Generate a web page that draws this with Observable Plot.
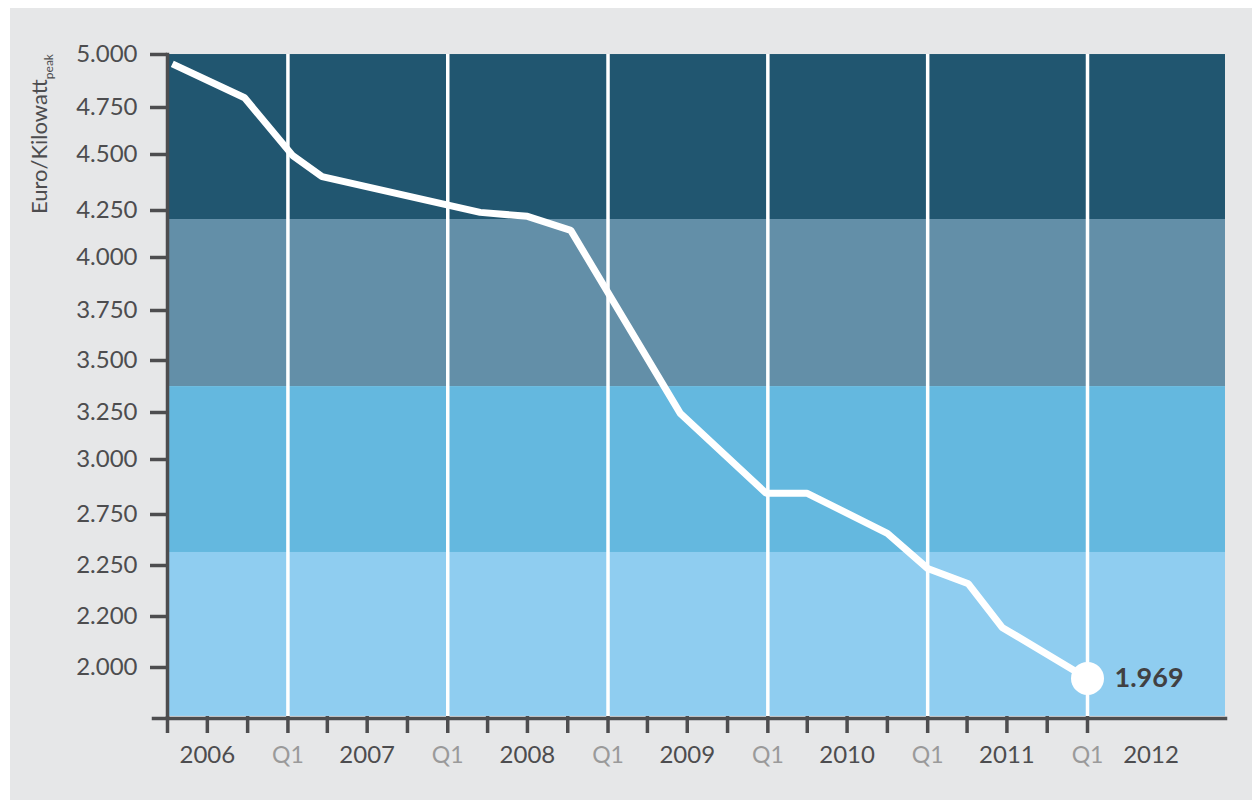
<!DOCTYPE html>
<html>
<head>
<meta charset="utf-8">
<script src="https://cdn.jsdelivr.net/npm/d3@7"></script>
<script src="https://cdn.jsdelivr.net/npm/@observablehq/plot@0.6"></script>
<style>
  html, body { margin: 0; padding: 0; background: #ffffff; }
  #chart { position: absolute; left: 10px; top: 8px; width: 1242px; height: 792px; background: #e6e7e8; }
  #chart svg { display: block; }
</style>
</head>
<body>
<div id="chart"></div>
<script>
// Average system price, Euro per kilowatt-peak
const dates  = ["2006-04-12", "2006-09-24", "2007-01-12", "2007-03-20", "2008-03-15", "2008-07-01",
                "2008-10-08", "2009-06-15", "2009-12-28", "2010-04-01", "2010-10-01", "2011-01-01",
                "2011-04-04", "2011-06-20", "2012-01-01"];
const prices = [4970, 4810, 4510, 4415, 4255, 4235, 4160, 3260, 2860, 2860, 2595, 2250, 2235, 2169, 1969];

// Value axis as labelled
const yTicks = [2000, 2200, 2250, 2750, 3000, 3250, 3500, 3750, 4000, 4250, 4500, 4750, 5000];

// Background bands (upper/lower edges in Euro/kWp) and their colours
const bandTop    = [5014, 4218, 3389, 2407];
const bandBottom = [4218, 3389, 2407, 1820];
const bandColors = ["#215670", "#638fa8", "#64b8df", "#8fcdf0"];

// Time axis labels
const q1Dates     = ["2007-01-01", "2008-01-01", "2009-01-01", "2010-01-01", "2011-01-01", "2012-01-01"];
const q1Labels    = ["Q1", "Q1", "Q1", "Q1", "Q1", "Q1"];
const yearDates   = ["2006-07-01", "2007-07-01", "2008-07-01", "2009-07-01", "2010-07-01", "2011-07-01", "2012-05-25"];
const yearLabels  = ["2006", "2007", "2008", "2009", "2010", "2011", "2012"];

const series = dates.map((d, i) => ({date: new Date(d), price: prices[i]}));
const bands = bandColors.map((c, i) => ({top: bandTop[i], bottom: bandBottom[i], color: c}));
const q1 = q1Dates.map((d, i) => ({date: new Date(d), label: q1Labels[i]}));
const years = yearDates.map((d, i) => ({date: new Date(d), label: yearLabels[i]}));
const quarters = d3.utcMonth.every(3).range(new Date("2006-04-01"), new Date("2012-01-02"));

const de = d3.formatLocale({decimal: ",", thousands: ".", grouping: [3], currency: ["", " €"]});
const fmt = de.format(",d");

const axisColor = "#4d4d4f";
const last = series[series.length - 1];

const chart = Plot.plot({
  width: 1242,
  height: 792,
  marginLeft: 157,
  marginRight: 27,
  marginTop: 46,
  marginBottom: 84,
  style: {fontFamily: "Lato, 'Open Sans', sans-serif", fontSize: "24px", color: axisColor, background: "transparent"},
  x: {type: "utc", domain: [new Date("2006-04-01"), new Date("2012-01-01")], range: [157, 1077]},
  y: {
    type: "linear",
    domain: yTicks,
    range: [662, 611, 560, 509, 454, 407, 355, 305, 252, 205, 149, 102, 49]
  },
  marks: [
    Plot.rect(bands, {y1: "bottom", y2: "top", fill: "color", clip: true}),
    Plot.ruleX(q1, {x: "date", stroke: "#ffffff", strokeWidth: 3.5}),
    Plot.line(series, {x: "date", y: "price", stroke: "#ffffff", strokeWidth: 7,
                       strokeLinejoin: "miter", strokeLinecap: "butt"}),
    Plot.dot([last], {x: "date", y: "price", r: 16.5, fill: "#ffffff", stroke: null}),
    Plot.text([last], {x: "date", y: "price", text: d => fmt(d.price), dx: 27, dy: 0,
                       textAnchor: "start", fontSize: 27, fontWeight: "bold", fill: "#414042"}),
    Plot.axisY({ticks: yTicks, tickFormat: fmt, tickSize: 17, tickPadding: 13, strokeWidth: 3.5,
                fontSize: 24, color: axisColor, dy: -3, label: null}),
    Plot.axisX({ticks: quarters, tickFormat: () => "", tickSize: 17, strokeWidth: 3.5,
                color: axisColor, label: null}),
    Plot.frame({anchor: "left", stroke: axisColor, strokeWidth: 3.5}),
    Plot.frame({anchor: "bottom", stroke: axisColor, strokeWidth: 3.5, insetLeft: -14, insetBottom: -2}),
    Plot.text(q1, {x: "date", text: "label", frameAnchor: "bottom", dy: 39, lineAnchor: "middle",
                   fontSize: 23, fill: "#9a9a9a"}),
    Plot.text(years, {x: "date", text: "label", frameAnchor: "bottom", dy: 39, lineAnchor: "middle",
                      fontSize: 24, fill: axisColor})
  ]
});

document.getElementById("chart").appendChild(chart);

// Rotated unit title with subscript
const title = d3.select(chart).append("text")
  .attr("transform", "translate(37,126) rotate(-90)")
  .attr("text-anchor", "middle")
  .attr("fill", axisColor)
  .attr("font-family", "Lato, 'Open Sans', sans-serif")
  .attr("font-size", 22);
title.append("tspan").text("Euro/Kilowatt");
title.append("tspan").attr("font-size", 12).attr("dy", 6).text("peak");
</script>
</body>
</html>
